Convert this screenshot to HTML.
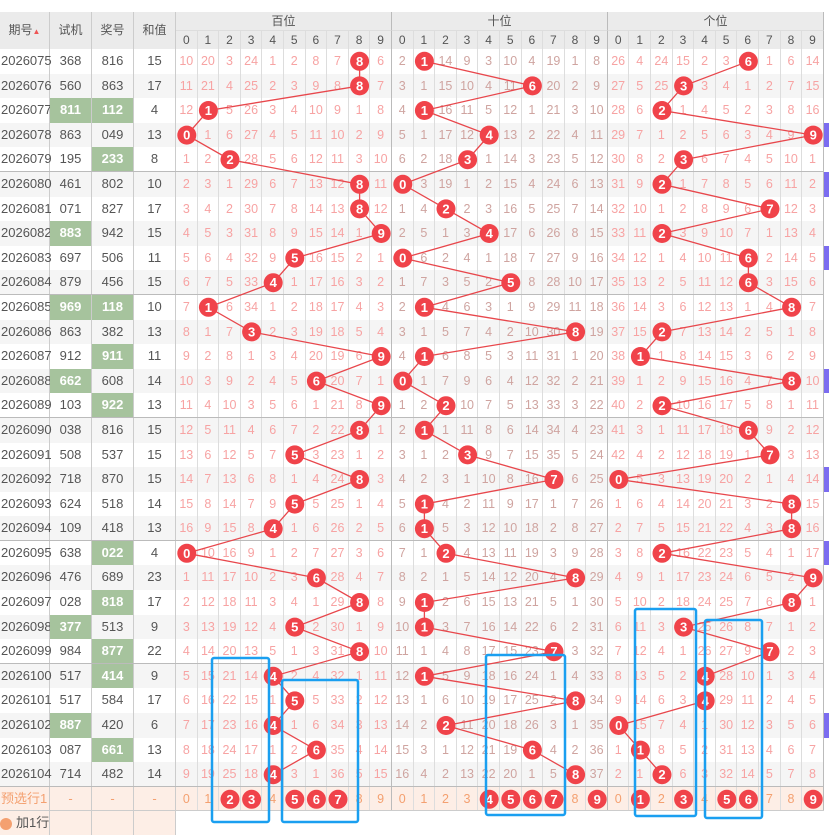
<!DOCTYPE html>
<html><head><meta charset="utf-8"><style>
body{margin:0;width:829px;height:835px;overflow:hidden;position:relative;background:#fff;font-family:"Liberation Sans","Noto Sans CJK SC",sans-serif;font-size:13px}
#hd{position:absolute;left:0;top:12px;width:824px;height:37px;background:#ebebeb;color:#555;font-size:12px}
#hd div{position:absolute;box-sizing:border-box;text-align:center}
#t{position:absolute;top:49px;left:0}
.r{display:flex;height:24.6px;width:824px;box-sizing:border-box}
.r i{font-style:normal;flex:none;width:21.6px;text-align:center;line-height:24.6px;border-right:1px solid #ddd;box-sizing:border-box;color:#f7a3a3;height:100%;white-space:nowrap;font-size:12.5px}
.r i:nth-child(n+15):nth-child(-n+24){color:#cfa4a0}
.r i:nth-child(1){width:50px;text-align:left;padding-left:1px;color:#555;border-right-color:#ccc;font-size:13px}
.r i:nth-child(2),.r i:nth-child(3),.r i:nth-child(4){width:42px;color:#555;border-right-color:#ccc;font-size:13px}
.r i:nth-child(14),.r i:nth-child(24),.r i:nth-child(34){border-right-color:#bbb}
.r i.g{background:#a6c39d;color:#fff;font-weight:bold}
.r i.p{width:5px;background:#7b6cf0;border:none}
.r:nth-child(even){background:#f5f5f5}
.r:nth-child(5n){border-bottom:1px solid #bbb}
.r.pre{background:#fdeee6;border-bottom:1px solid #ccc}
.r.pre i{color:#f4a070!important}
.r.add{background:transparent;height:24px}
.r.add i{background:#fdeee6;border-right-color:#ccc}
.hn{display:flex}
.hn b{font-weight:normal;width:21.6px;text-align:center;border-right:1px solid #ddd;box-sizing:border-box}
.hn b:nth-child(10n){border-right-color:#bbb}
</style></head><body>
<div id="hd">
<div style="left:0;top:0;width:50px;height:37px;line-height:37px;border-right:1px solid #ccc">期号<span style="font-size:8px;color:#e55">▲</span></div>
<div style="left:50px;top:0;width:42px;height:37px;line-height:37px;border-right:1px solid #ccc">试机</div>
<div style="left:92px;top:0;width:42px;height:37px;line-height:37px;border-right:1px solid #ccc">奖号</div>
<div style="left:134px;top:0;width:42px;height:37px;line-height:37px;border-right:1px solid #ccc">和值</div>
<div style="left:176px;top:0;width:216px;height:19px;line-height:19px;border-right:1px solid #bbb;border-bottom:1px solid #ddd">百位</div>
<div style="left:392px;top:0;width:216px;height:19px;line-height:19px;border-right:1px solid #bbb;border-bottom:1px solid #ddd">十位</div>
<div style="left:608px;top:0;width:216px;height:19px;line-height:19px;border-right:1px solid #bbb;border-bottom:1px solid #ddd">个位</div>
<div style="left:176px;top:19px;width:648px;height:18px;line-height:18px;text-align:left">
<span class="hn"><b>0</b><b>1</b><b>2</b><b>3</b><b>4</b><b>5</b><b>6</b><b>7</b><b>8</b><b>9</b><b>0</b><b>1</b><b>2</b><b>3</b><b>4</b><b>5</b><b>6</b><b>7</b><b>8</b><b>9</b><b>0</b><b>1</b><b>2</b><b>3</b><b>4</b><b>5</b><b>6</b><b>7</b><b>8</b><b>9</b></span></div>
</div>
<div id="t">
<div class="r"><i>2026075</i><i>368</i><i>816</i><i>15</i><i>10</i><i>20</i><i>3</i><i>24</i><i>1</i><i>2</i><i>8</i><i>7</i><i></i><i>6</i><i>2</i><i></i><i>14</i><i>9</i><i>3</i><i>10</i><i>4</i><i>19</i><i>1</i><i>8</i><i>26</i><i>4</i><i>24</i><i>15</i><i>2</i><i>3</i><i></i><i>1</i><i>6</i><i>14</i></div>
<div class="r"><i>2026076</i><i>560</i><i>863</i><i>17</i><i>11</i><i>21</i><i>4</i><i>25</i><i>2</i><i>3</i><i>9</i><i>8</i><i></i><i>7</i><i>3</i><i>1</i><i>15</i><i>10</i><i>4</i><i>11</i><i></i><i>20</i><i>2</i><i>9</i><i>27</i><i>5</i><i>25</i><i></i><i>3</i><i>4</i><i>1</i><i>2</i><i>7</i><i>15</i></div>
<div class="r"><i>2026077</i><i class="g">811</i><i class="g">112</i><i>4</i><i>12</i><i></i><i>5</i><i>26</i><i>3</i><i>4</i><i>10</i><i>9</i><i>1</i><i>8</i><i>4</i><i></i><i>16</i><i>11</i><i>5</i><i>12</i><i>1</i><i>21</i><i>3</i><i>10</i><i>28</i><i>6</i><i></i><i>1</i><i>4</i><i>5</i><i>2</i><i>3</i><i>8</i><i>16</i></div>
<div class="r"><i>2026078</i><i>863</i><i>049</i><i>13</i><i></i><i>1</i><i>6</i><i>27</i><i>4</i><i>5</i><i>11</i><i>10</i><i>2</i><i>9</i><i>5</i><i>1</i><i>17</i><i>12</i><i></i><i>13</i><i>2</i><i>22</i><i>4</i><i>11</i><i>29</i><i>7</i><i>1</i><i>2</i><i>5</i><i>6</i><i>3</i><i>4</i><i>9</i><i></i><i class="p"></i></div>
<div class="r"><i>2026079</i><i>195</i><i class="g">233</i><i>8</i><i>1</i><i>2</i><i></i><i>28</i><i>5</i><i>6</i><i>12</i><i>11</i><i>3</i><i>10</i><i>6</i><i>2</i><i>18</i><i></i><i>1</i><i>14</i><i>3</i><i>23</i><i>5</i><i>12</i><i>30</i><i>8</i><i>2</i><i></i><i>6</i><i>7</i><i>4</i><i>5</i><i>10</i><i>1</i></div>
<div class="r"><i>2026080</i><i>461</i><i>802</i><i>10</i><i>2</i><i>3</i><i>1</i><i>29</i><i>6</i><i>7</i><i>13</i><i>12</i><i></i><i>11</i><i></i><i>3</i><i>19</i><i>1</i><i>2</i><i>15</i><i>4</i><i>24</i><i>6</i><i>13</i><i>31</i><i>9</i><i></i><i>1</i><i>7</i><i>8</i><i>5</i><i>6</i><i>11</i><i>2</i><i class="p"></i></div>
<div class="r"><i>2026081</i><i>071</i><i>827</i><i>17</i><i>3</i><i>4</i><i>2</i><i>30</i><i>7</i><i>8</i><i>14</i><i>13</i><i></i><i>12</i><i>1</i><i>4</i><i></i><i>2</i><i>3</i><i>16</i><i>5</i><i>25</i><i>7</i><i>14</i><i>32</i><i>10</i><i>1</i><i>2</i><i>8</i><i>9</i><i>6</i><i></i><i>12</i><i>3</i></div>
<div class="r"><i>2026082</i><i class="g">883</i><i>942</i><i>15</i><i>4</i><i>5</i><i>3</i><i>31</i><i>8</i><i>9</i><i>15</i><i>14</i><i>1</i><i></i><i>2</i><i>5</i><i>1</i><i>3</i><i></i><i>17</i><i>6</i><i>26</i><i>8</i><i>15</i><i>33</i><i>11</i><i></i><i>3</i><i>9</i><i>10</i><i>7</i><i>1</i><i>13</i><i>4</i></div>
<div class="r"><i>2026083</i><i>697</i><i>506</i><i>11</i><i>5</i><i>6</i><i>4</i><i>32</i><i>9</i><i></i><i>16</i><i>15</i><i>2</i><i>1</i><i></i><i>6</i><i>2</i><i>4</i><i>1</i><i>18</i><i>7</i><i>27</i><i>9</i><i>16</i><i>34</i><i>12</i><i>1</i><i>4</i><i>10</i><i>11</i><i></i><i>2</i><i>14</i><i>5</i><i class="p"></i></div>
<div class="r"><i>2026084</i><i>879</i><i>456</i><i>15</i><i>6</i><i>7</i><i>5</i><i>33</i><i></i><i>1</i><i>17</i><i>16</i><i>3</i><i>2</i><i>1</i><i>7</i><i>3</i><i>5</i><i>2</i><i></i><i>8</i><i>28</i><i>10</i><i>17</i><i>35</i><i>13</i><i>2</i><i>5</i><i>11</i><i>12</i><i></i><i>3</i><i>15</i><i>6</i></div>
<div class="r"><i>2026085</i><i class="g">969</i><i class="g">118</i><i>10</i><i>7</i><i></i><i>6</i><i>34</i><i>1</i><i>2</i><i>18</i><i>17</i><i>4</i><i>3</i><i>2</i><i></i><i>4</i><i>6</i><i>3</i><i>1</i><i>9</i><i>29</i><i>11</i><i>18</i><i>36</i><i>14</i><i>3</i><i>6</i><i>12</i><i>13</i><i>1</i><i>4</i><i></i><i>7</i></div>
<div class="r"><i>2026086</i><i>863</i><i>382</i><i>13</i><i>8</i><i>1</i><i>7</i><i></i><i>2</i><i>3</i><i>19</i><i>18</i><i>5</i><i>4</i><i>3</i><i>1</i><i>5</i><i>7</i><i>4</i><i>2</i><i>10</i><i>30</i><i></i><i>19</i><i>37</i><i>15</i><i></i><i>7</i><i>13</i><i>14</i><i>2</i><i>5</i><i>1</i><i>8</i></div>
<div class="r"><i>2026087</i><i>912</i><i class="g">911</i><i>11</i><i>9</i><i>2</i><i>8</i><i>1</i><i>3</i><i>4</i><i>20</i><i>19</i><i>6</i><i></i><i>4</i><i></i><i>6</i><i>8</i><i>5</i><i>3</i><i>11</i><i>31</i><i>1</i><i>20</i><i>38</i><i></i><i>1</i><i>8</i><i>14</i><i>15</i><i>3</i><i>6</i><i>2</i><i>9</i></div>
<div class="r"><i>2026088</i><i class="g">662</i><i>608</i><i>14</i><i>10</i><i>3</i><i>9</i><i>2</i><i>4</i><i>5</i><i></i><i>20</i><i>7</i><i>1</i><i></i><i>1</i><i>7</i><i>9</i><i>6</i><i>4</i><i>12</i><i>32</i><i>2</i><i>21</i><i>39</i><i>1</i><i>2</i><i>9</i><i>15</i><i>16</i><i>4</i><i>7</i><i></i><i>10</i><i class="p"></i></div>
<div class="r"><i>2026089</i><i>103</i><i class="g">922</i><i>13</i><i>11</i><i>4</i><i>10</i><i>3</i><i>5</i><i>6</i><i>1</i><i>21</i><i>8</i><i></i><i>1</i><i>2</i><i></i><i>10</i><i>7</i><i>5</i><i>13</i><i>33</i><i>3</i><i>22</i><i>40</i><i>2</i><i></i><i>10</i><i>16</i><i>17</i><i>5</i><i>8</i><i>1</i><i>11</i></div>
<div class="r"><i>2026090</i><i>038</i><i>816</i><i>15</i><i>12</i><i>5</i><i>11</i><i>4</i><i>6</i><i>7</i><i>2</i><i>22</i><i></i><i>1</i><i>2</i><i></i><i>1</i><i>11</i><i>8</i><i>6</i><i>14</i><i>34</i><i>4</i><i>23</i><i>41</i><i>3</i><i>1</i><i>11</i><i>17</i><i>18</i><i></i><i>9</i><i>2</i><i>12</i></div>
<div class="r"><i>2026091</i><i>508</i><i>537</i><i>15</i><i>13</i><i>6</i><i>12</i><i>5</i><i>7</i><i></i><i>3</i><i>23</i><i>1</i><i>2</i><i>3</i><i>1</i><i>2</i><i></i><i>9</i><i>7</i><i>15</i><i>35</i><i>5</i><i>24</i><i>42</i><i>4</i><i>2</i><i>12</i><i>18</i><i>19</i><i>1</i><i></i><i>3</i><i>13</i></div>
<div class="r"><i>2026092</i><i>718</i><i>870</i><i>15</i><i>14</i><i>7</i><i>13</i><i>6</i><i>8</i><i>1</i><i>4</i><i>24</i><i></i><i>3</i><i>4</i><i>2</i><i>3</i><i>1</i><i>10</i><i>8</i><i>16</i><i></i><i>6</i><i>25</i><i></i><i>5</i><i>3</i><i>13</i><i>19</i><i>20</i><i>2</i><i>1</i><i>4</i><i>14</i><i class="p"></i></div>
<div class="r"><i>2026093</i><i>624</i><i>518</i><i>14</i><i>15</i><i>8</i><i>14</i><i>7</i><i>9</i><i></i><i>5</i><i>25</i><i>1</i><i>4</i><i>5</i><i></i><i>4</i><i>2</i><i>11</i><i>9</i><i>17</i><i>1</i><i>7</i><i>26</i><i>1</i><i>6</i><i>4</i><i>14</i><i>20</i><i>21</i><i>3</i><i>2</i><i></i><i>15</i></div>
<div class="r"><i>2026094</i><i>109</i><i>418</i><i>13</i><i>16</i><i>9</i><i>15</i><i>8</i><i></i><i>1</i><i>6</i><i>26</i><i>2</i><i>5</i><i>6</i><i></i><i>5</i><i>3</i><i>12</i><i>10</i><i>18</i><i>2</i><i>8</i><i>27</i><i>2</i><i>7</i><i>5</i><i>15</i><i>21</i><i>22</i><i>4</i><i>3</i><i></i><i>16</i></div>
<div class="r"><i>2026095</i><i>638</i><i class="g">022</i><i>4</i><i></i><i>10</i><i>16</i><i>9</i><i>1</i><i>2</i><i>7</i><i>27</i><i>3</i><i>6</i><i>7</i><i>1</i><i></i><i>4</i><i>13</i><i>11</i><i>19</i><i>3</i><i>9</i><i>28</i><i>3</i><i>8</i><i></i><i>16</i><i>22</i><i>23</i><i>5</i><i>4</i><i>1</i><i>17</i><i class="p"></i></div>
<div class="r"><i>2026096</i><i>476</i><i>689</i><i>23</i><i>1</i><i>11</i><i>17</i><i>10</i><i>2</i><i>3</i><i></i><i>28</i><i>4</i><i>7</i><i>8</i><i>2</i><i>1</i><i>5</i><i>14</i><i>12</i><i>20</i><i>4</i><i></i><i>29</i><i>4</i><i>9</i><i>1</i><i>17</i><i>23</i><i>24</i><i>6</i><i>5</i><i>2</i><i></i></div>
<div class="r"><i>2026097</i><i>028</i><i class="g">818</i><i>17</i><i>2</i><i>12</i><i>18</i><i>11</i><i>3</i><i>4</i><i>1</i><i>29</i><i></i><i>8</i><i>9</i><i></i><i>2</i><i>6</i><i>15</i><i>13</i><i>21</i><i>5</i><i>1</i><i>30</i><i>5</i><i>10</i><i>2</i><i>18</i><i>24</i><i>25</i><i>7</i><i>6</i><i></i><i>1</i></div>
<div class="r"><i>2026098</i><i class="g">377</i><i>513</i><i>9</i><i>3</i><i>13</i><i>19</i><i>12</i><i>4</i><i></i><i>2</i><i>30</i><i>1</i><i>9</i><i>10</i><i></i><i>3</i><i>7</i><i>16</i><i>14</i><i>22</i><i>6</i><i>2</i><i>31</i><i>6</i><i>11</i><i>3</i><i></i><i>25</i><i>26</i><i>8</i><i>7</i><i>1</i><i>2</i></div>
<div class="r"><i>2026099</i><i>984</i><i class="g">877</i><i>22</i><i>4</i><i>14</i><i>20</i><i>13</i><i>5</i><i>1</i><i>3</i><i>31</i><i></i><i>10</i><i>11</i><i>1</i><i>4</i><i>8</i><i>17</i><i>15</i><i>23</i><i></i><i>3</i><i>32</i><i>7</i><i>12</i><i>4</i><i>1</i><i>26</i><i>27</i><i>9</i><i></i><i>2</i><i>3</i></div>
<div class="r"><i>2026100</i><i>517</i><i class="g">414</i><i>9</i><i>5</i><i>15</i><i>21</i><i>14</i><i></i><i>2</i><i>4</i><i>32</i><i>1</i><i>11</i><i>12</i><i></i><i>5</i><i>9</i><i>18</i><i>16</i><i>24</i><i>1</i><i>4</i><i>33</i><i>8</i><i>13</i><i>5</i><i>2</i><i></i><i>28</i><i>10</i><i>1</i><i>3</i><i>4</i></div>
<div class="r"><i>2026101</i><i>517</i><i>584</i><i>17</i><i>6</i><i>16</i><i>22</i><i>15</i><i>1</i><i></i><i>5</i><i>33</i><i>2</i><i>12</i><i>13</i><i>1</i><i>6</i><i>10</i><i>19</i><i>17</i><i>25</i><i>2</i><i></i><i>34</i><i>9</i><i>14</i><i>6</i><i>3</i><i></i><i>29</i><i>11</i><i>2</i><i>4</i><i>5</i></div>
<div class="r"><i>2026102</i><i class="g">887</i><i>420</i><i>6</i><i>7</i><i>17</i><i>23</i><i>16</i><i></i><i>1</i><i>6</i><i>34</i><i>3</i><i>13</i><i>14</i><i>2</i><i></i><i>11</i><i>20</i><i>18</i><i>26</i><i>3</i><i>1</i><i>35</i><i></i><i>15</i><i>7</i><i>4</i><i>1</i><i>30</i><i>12</i><i>3</i><i>5</i><i>6</i><i class="p"></i></div>
<div class="r"><i>2026103</i><i>087</i><i class="g">661</i><i>13</i><i>8</i><i>18</i><i>24</i><i>17</i><i>1</i><i>2</i><i></i><i>35</i><i>4</i><i>14</i><i>15</i><i>3</i><i>1</i><i>12</i><i>21</i><i>19</i><i></i><i>4</i><i>2</i><i>36</i><i>1</i><i></i><i>8</i><i>5</i><i>2</i><i>31</i><i>13</i><i>4</i><i>6</i><i>7</i></div>
<div class="r"><i>2026104</i><i>714</i><i>482</i><i>14</i><i>9</i><i>19</i><i>25</i><i>18</i><i></i><i>3</i><i>1</i><i>36</i><i>5</i><i>15</i><i>16</i><i>4</i><i>2</i><i>13</i><i>22</i><i>20</i><i>1</i><i>5</i><i></i><i>37</i><i>2</i><i>1</i><i></i><i>6</i><i>3</i><i>32</i><i>14</i><i>5</i><i>7</i><i>8</i></div>
<div class="r pre"><i>预选行1</i><i>-</i><i>-</i><i>-</i><i>0</i><i>1</i><i></i><i></i><i>4</i><i></i><i></i><i></i><i>8</i><i>9</i><i>0</i><i>1</i><i>2</i><i>3</i><i></i><i></i><i></i><i></i><i>8</i><i></i><i>0</i><i></i><i>2</i><i></i><i>4</i><i></i><i></i><i>7</i><i>8</i><i></i></div>
<div class="r add"><i style="color:#555;padding-left:0;overflow:visible"><span style="display:inline-block;width:12px;height:12px;border-radius:50%;background:#f4a070;vertical-align:middle;margin-right:4px"></span>加1行</i><i></i><i></i><i></i></div>
</div>
<svg width="829" height="835" style="position:absolute;left:0;top:0" xmlns="http://www.w3.org/2000/svg">
<g fill="none" stroke="#e8474c" stroke-width="1.3">
<polyline points="359.6,61.3 359.6,85.9 208.4,110.5 186.8,135.1 230,159.7 359.6,184.3 359.6,208.9 381.2,233.5 294.8,258.1 273.2,282.7 208.4,307.3 251.6,331.9 381.2,356.5 316.4,381.1 381.2,405.7 359.6,430.3 294.8,454.9 359.6,479.5 294.8,504.1 273.2,528.7 186.8,553.3 316.4,577.9 359.6,602.5 294.8,627.1 359.6,651.7 273.2,676.3 294.8,700.9 273.2,725.5 316.4,750.1 273.2,774.7"/>
<polyline points="424.4,61.3 532.4,85.9 424.4,110.5 489.2,135.1 467.6,159.7 402.8,184.3 446,208.9 489.2,233.5 402.8,258.1 510.8,282.7 424.4,307.3 575.6,331.9 424.4,356.5 402.8,381.1 446,405.7 424.4,430.3 467.6,454.9 554,479.5 424.4,504.1 424.4,528.7 446,553.3 575.6,577.9 424.4,602.5 424.4,627.1 554,651.7 424.4,676.3 575.6,700.9 446,725.5 532.4,750.1 575.6,774.7"/>
<polyline points="748.4,61.3 683.6,85.9 662,110.5 813.2,135.1 683.6,159.7 662,184.3 770,208.9 662,233.5 748.4,258.1 748.4,282.7 791.6,307.3 662,331.9 640.4,356.5 791.6,381.1 662,405.7 748.4,430.3 770,454.9 618.8,479.5 791.6,504.1 791.6,528.7 662,553.3 813.2,577.9 791.6,602.5 683.6,627.1 770,651.7 705.2,676.3 705.2,700.9 618.8,725.5 640.4,750.1 662,774.7"/>
</g>
<g fill="#f0434a">
<circle cx="359.6" cy="61.3" r="9.5"/><circle cx="359.6" cy="85.9" r="9.5"/><circle cx="208.4" cy="110.5" r="9.5"/><circle cx="186.8" cy="135.1" r="9.5"/><circle cx="230" cy="159.7" r="9.5"/><circle cx="359.6" cy="184.3" r="9.5"/><circle cx="359.6" cy="208.9" r="9.5"/><circle cx="381.2" cy="233.5" r="9.5"/><circle cx="294.8" cy="258.1" r="9.5"/><circle cx="273.2" cy="282.7" r="9.5"/><circle cx="208.4" cy="307.3" r="9.5"/><circle cx="251.6" cy="331.9" r="9.5"/><circle cx="381.2" cy="356.5" r="9.5"/><circle cx="316.4" cy="381.1" r="9.5"/><circle cx="381.2" cy="405.7" r="9.5"/><circle cx="359.6" cy="430.3" r="9.5"/><circle cx="294.8" cy="454.9" r="9.5"/><circle cx="359.6" cy="479.5" r="9.5"/><circle cx="294.8" cy="504.1" r="9.5"/><circle cx="273.2" cy="528.7" r="9.5"/><circle cx="186.8" cy="553.3" r="9.5"/><circle cx="316.4" cy="577.9" r="9.5"/><circle cx="359.6" cy="602.5" r="9.5"/><circle cx="294.8" cy="627.1" r="9.5"/><circle cx="359.6" cy="651.7" r="9.5"/><circle cx="273.2" cy="676.3" r="9.5"/><circle cx="294.8" cy="700.9" r="9.5"/><circle cx="273.2" cy="725.5" r="9.5"/><circle cx="316.4" cy="750.1" r="9.5"/><circle cx="273.2" cy="774.7" r="9.5"/>
<circle cx="424.4" cy="61.3" r="9.5"/><circle cx="532.4" cy="85.9" r="9.5"/><circle cx="424.4" cy="110.5" r="9.5"/><circle cx="489.2" cy="135.1" r="9.5"/><circle cx="467.6" cy="159.7" r="9.5"/><circle cx="402.8" cy="184.3" r="9.5"/><circle cx="446" cy="208.9" r="9.5"/><circle cx="489.2" cy="233.5" r="9.5"/><circle cx="402.8" cy="258.1" r="9.5"/><circle cx="510.8" cy="282.7" r="9.5"/><circle cx="424.4" cy="307.3" r="9.5"/><circle cx="575.6" cy="331.9" r="9.5"/><circle cx="424.4" cy="356.5" r="9.5"/><circle cx="402.8" cy="381.1" r="9.5"/><circle cx="446" cy="405.7" r="9.5"/><circle cx="424.4" cy="430.3" r="9.5"/><circle cx="467.6" cy="454.9" r="9.5"/><circle cx="554" cy="479.5" r="9.5"/><circle cx="424.4" cy="504.1" r="9.5"/><circle cx="424.4" cy="528.7" r="9.5"/><circle cx="446" cy="553.3" r="9.5"/><circle cx="575.6" cy="577.9" r="9.5"/><circle cx="424.4" cy="602.5" r="9.5"/><circle cx="424.4" cy="627.1" r="9.5"/><circle cx="554" cy="651.7" r="9.5"/><circle cx="424.4" cy="676.3" r="9.5"/><circle cx="575.6" cy="700.9" r="9.5"/><circle cx="446" cy="725.5" r="9.5"/><circle cx="532.4" cy="750.1" r="9.5"/><circle cx="575.6" cy="774.7" r="9.5"/>
<circle cx="748.4" cy="61.3" r="9.5"/><circle cx="683.6" cy="85.9" r="9.5"/><circle cx="662" cy="110.5" r="9.5"/><circle cx="813.2" cy="135.1" r="9.5"/><circle cx="683.6" cy="159.7" r="9.5"/><circle cx="662" cy="184.3" r="9.5"/><circle cx="770" cy="208.9" r="9.5"/><circle cx="662" cy="233.5" r="9.5"/><circle cx="748.4" cy="258.1" r="9.5"/><circle cx="748.4" cy="282.7" r="9.5"/><circle cx="791.6" cy="307.3" r="9.5"/><circle cx="662" cy="331.9" r="9.5"/><circle cx="640.4" cy="356.5" r="9.5"/><circle cx="791.6" cy="381.1" r="9.5"/><circle cx="662" cy="405.7" r="9.5"/><circle cx="748.4" cy="430.3" r="9.5"/><circle cx="770" cy="454.9" r="9.5"/><circle cx="618.8" cy="479.5" r="9.5"/><circle cx="791.6" cy="504.1" r="9.5"/><circle cx="791.6" cy="528.7" r="9.5"/><circle cx="662" cy="553.3" r="9.5"/><circle cx="813.2" cy="577.9" r="9.5"/><circle cx="791.6" cy="602.5" r="9.5"/><circle cx="683.6" cy="627.1" r="9.5"/><circle cx="770" cy="651.7" r="9.5"/><circle cx="705.2" cy="676.3" r="9.5"/><circle cx="705.2" cy="700.9" r="9.5"/><circle cx="618.8" cy="725.5" r="9.5"/><circle cx="640.4" cy="750.1" r="9.5"/><circle cx="662" cy="774.7" r="9.5"/>
<circle cx="230" cy="799.3" r="9.5"/><circle cx="251.6" cy="799.3" r="9.5"/><circle cx="294.8" cy="799.3" r="9.5"/><circle cx="316.4" cy="799.3" r="9.5"/><circle cx="338" cy="799.3" r="9.5"/>
<circle cx="489.2" cy="799.3" r="9.5"/><circle cx="510.8" cy="799.3" r="9.5"/><circle cx="532.4" cy="799.3" r="9.5"/><circle cx="554" cy="799.3" r="9.5"/><circle cx="597.2" cy="799.3" r="9.5"/>
<circle cx="640.4" cy="799.3" r="9.5"/><circle cx="683.6" cy="799.3" r="9.5"/><circle cx="726.8" cy="799.3" r="9.5"/><circle cx="748.4" cy="799.3" r="9.5"/><circle cx="813.2" cy="799.3" r="9.5"/>
</g>
<g fill="#fff" font-family="Liberation Sans, sans-serif" font-size="13" font-weight="bold" text-anchor="middle">
<text x="359.6" y="65.8">8</text><text x="359.6" y="90.4">8</text><text x="208.4" y="115">1</text><text x="186.8" y="139.6">0</text><text x="230" y="164.2">2</text><text x="359.6" y="188.8">8</text><text x="359.6" y="213.4">8</text><text x="381.2" y="238">9</text><text x="294.8" y="262.6">5</text><text x="273.2" y="287.2">4</text><text x="208.4" y="311.8">1</text><text x="251.6" y="336.4">3</text><text x="381.2" y="361">9</text><text x="316.4" y="385.6">6</text><text x="381.2" y="410.2">9</text><text x="359.6" y="434.8">8</text><text x="294.8" y="459.4">5</text><text x="359.6" y="484">8</text><text x="294.8" y="508.6">5</text><text x="273.2" y="533.2">4</text><text x="186.8" y="557.8">0</text><text x="316.4" y="582.4">6</text><text x="359.6" y="607">8</text><text x="294.8" y="631.6">5</text><text x="359.6" y="656.2">8</text><text x="273.2" y="680.8">4</text><text x="294.8" y="705.4">5</text><text x="273.2" y="730">4</text><text x="316.4" y="754.6">6</text><text x="273.2" y="779.2">4</text>
<text x="424.4" y="65.8">1</text><text x="532.4" y="90.4">6</text><text x="424.4" y="115">1</text><text x="489.2" y="139.6">4</text><text x="467.6" y="164.2">3</text><text x="402.8" y="188.8">0</text><text x="446" y="213.4">2</text><text x="489.2" y="238">4</text><text x="402.8" y="262.6">0</text><text x="510.8" y="287.2">5</text><text x="424.4" y="311.8">1</text><text x="575.6" y="336.4">8</text><text x="424.4" y="361">1</text><text x="402.8" y="385.6">0</text><text x="446" y="410.2">2</text><text x="424.4" y="434.8">1</text><text x="467.6" y="459.4">3</text><text x="554" y="484">7</text><text x="424.4" y="508.6">1</text><text x="424.4" y="533.2">1</text><text x="446" y="557.8">2</text><text x="575.6" y="582.4">8</text><text x="424.4" y="607">1</text><text x="424.4" y="631.6">1</text><text x="554" y="656.2">7</text><text x="424.4" y="680.8">1</text><text x="575.6" y="705.4">8</text><text x="446" y="730">2</text><text x="532.4" y="754.6">6</text><text x="575.6" y="779.2">8</text>
<text x="748.4" y="65.8">6</text><text x="683.6" y="90.4">3</text><text x="662" y="115">2</text><text x="813.2" y="139.6">9</text><text x="683.6" y="164.2">3</text><text x="662" y="188.8">2</text><text x="770" y="213.4">7</text><text x="662" y="238">2</text><text x="748.4" y="262.6">6</text><text x="748.4" y="287.2">6</text><text x="791.6" y="311.8">8</text><text x="662" y="336.4">2</text><text x="640.4" y="361">1</text><text x="791.6" y="385.6">8</text><text x="662" y="410.2">2</text><text x="748.4" y="434.8">6</text><text x="770" y="459.4">7</text><text x="618.8" y="484">0</text><text x="791.6" y="508.6">8</text><text x="791.6" y="533.2">8</text><text x="662" y="557.8">2</text><text x="813.2" y="582.4">9</text><text x="791.6" y="607">8</text><text x="683.6" y="631.6">3</text><text x="770" y="656.2">7</text><text x="705.2" y="680.8">4</text><text x="705.2" y="705.4">4</text><text x="618.8" y="730">0</text><text x="640.4" y="754.6">1</text><text x="662" y="779.2">2</text>
<text x="230" y="803.8">2</text><text x="251.6" y="803.8">3</text><text x="294.8" y="803.8">5</text><text x="316.4" y="803.8">6</text><text x="338" y="803.8">7</text>
<text x="489.2" y="803.8">4</text><text x="510.8" y="803.8">5</text><text x="532.4" y="803.8">6</text><text x="554" y="803.8">7</text><text x="597.2" y="803.8">9</text>
<text x="640.4" y="803.8">1</text><text x="683.6" y="803.8">3</text><text x="726.8" y="803.8">5</text><text x="748.4" y="803.8">6</text><text x="813.2" y="803.8">9</text>
</g>
<g fill="none" stroke="#1a9ff0" stroke-width="2.5">
<rect x="212" y="658" width="57" height="164" rx="2"/>
<rect x="282" y="680" width="76" height="142" rx="2"/>
<rect x="486" y="655" width="79" height="160" rx="2"/>
<rect x="635" y="609" width="61" height="207" rx="2"/>
<rect x="705" y="620" width="57" height="198" rx="2"/>
</g>
</svg>
</body></html>
